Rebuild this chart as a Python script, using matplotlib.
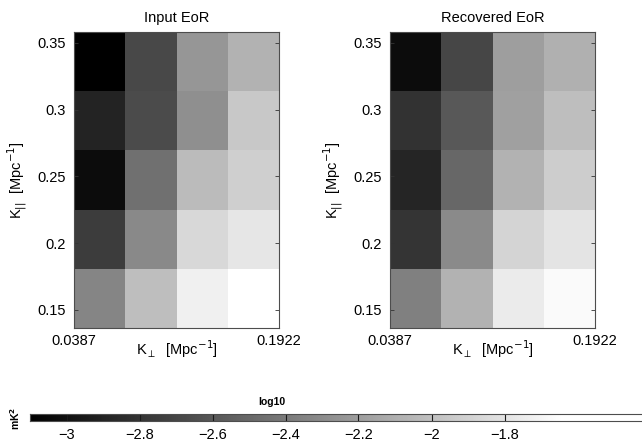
import numpy as np
import matplotlib

matplotlib.use("Agg")
import matplotlib.pyplot as plt
from matplotlib.colors import Normalize

plt.rcParams["font.family"] = ["Liberation Sans", "DejaVu Sans"]

# log10 power (mK^2), rows from K_par = 0.15 (bottom) to 0.35 (top)
input_eor = np.array([
    [-2.339, -2.012, -1.726, -1.640],
    [-2.757, -2.316, -1.863, -1.783],
    [-3.031, -2.459, -2.029, -1.915],
    [-2.900, -2.671, -2.281, -1.955],
    [-3.100, -2.688, -2.241, -2.081],
])
recovered_eor = np.array([
    [-2.367, -2.081, -1.755, -1.669],
    [-2.802, -2.310, -1.886, -1.795],
    [-2.888, -2.510, -2.081, -1.926],
    [-2.814, -2.596, -2.184, -2.012],
    [-3.031, -2.699, -2.195, -2.092],
])
titles = ["Input EoR", "Recovered EoR"]
k_perp_ticks = [0.0387, 0.1922]
k_par_ticks = [0.15, 0.2, 0.25, 0.3, 0.35]
cbar_ticks = [-3, -2.8, -2.6, -2.4, -2.2, -2, -1.8]

vmin, vmax = -3.1, -1.64
norm = Normalize(vmin, vmax)
x_edges = np.linspace(0.0387, 0.1922, 5)
y_edges = np.linspace(0.1365, 0.358, 6)

fig = plt.figure(figsize=(6.42, 4.44), dpi=100)
W, H = 642, 444

for i, (data, title) in enumerate(zip([input_eor, recovered_eor], titles)):
    left = [74, 390][i]
    ax = fig.add_axes([left / W, (H - 328) / H, 205 / W, 296 / H])
    ax.pcolormesh(x_edges, y_edges, data, cmap="gray", norm=norm)
    ax.set_xlim(x_edges[0], x_edges[-1])
    ax.set_ylim(y_edges[0], y_edges[-1])
    ax.set_xticks(k_perp_ticks)
    ax.set_xticklabels(["0.0387", "0.1922"])
    ax.set_yticks(k_par_ticks)
    ax.set_yticklabels(["0.15", "0.2", "0.25", "0.3", "0.35"])
    ax.tick_params(direction="in", length=3, width=0.6, labelsize=10.5,
                   right=True, top=True, color="0.2", pad=6)
    ax.tick_params(axis="x", pad=4)
    for s in ax.spines.values():
        s.set_color("0.3")
        s.set_linewidth(0.8)
    ax.set_title(title, fontsize=10.5, pad=7)
    ax.set_xlabel(r"K$_\perp$  [Mpc$^{-1}$]", fontsize=10.5)
    ax.xaxis.set_label_coords(0.5, -(349 - 328) / 296)
    ax.xaxis.label.set_va("center")
    ax.set_ylabel(r"K$_{||}$  [Mpc$^{-1}$]", fontsize=10.5, labelpad=6)

# horizontal colorbar running off the right edge
x_lo = -3.1
x_hi = x_lo + (650 - 30) / 365.0
cax = fig.add_axes([30 / W, (H - 421) / H, 620 / W, 7 / H])
grad = np.linspace(x_lo, x_hi, 600)[None, :]
cax.imshow(grad, cmap="gray", norm=norm, aspect="auto",
           extent=[x_lo, x_hi, 0, 1])
cax.set_xlim(x_lo, x_hi)
cax.set_yticks([])
cax.set_xticks(cbar_ticks)
cax.set_xticklabels([f"{t:g}".replace("-", "\u2212") for t in cbar_ticks])
cax.tick_params(axis="x", length=0, labelsize=10.5, pad=5)
for t in cbar_ticks:
    cax.axvline(t, color="0.1", lw=0.8)
for s in cax.spines.values():
    s.set_color("0.3")
    s.set_linewidth(0.8)

fig.text(272 / W, (H - 402) / H, "log10", fontsize=7.5, fontweight="bold",
         ha="center", va="center")
fig.text(15 / W, (H - 418) / H, "mK$^\\mathbf{2}$", fontsize=7.5,
         fontweight="bold", rotation=90, ha="center", va="center")

fig.savefig("out.png", dpi=100)
